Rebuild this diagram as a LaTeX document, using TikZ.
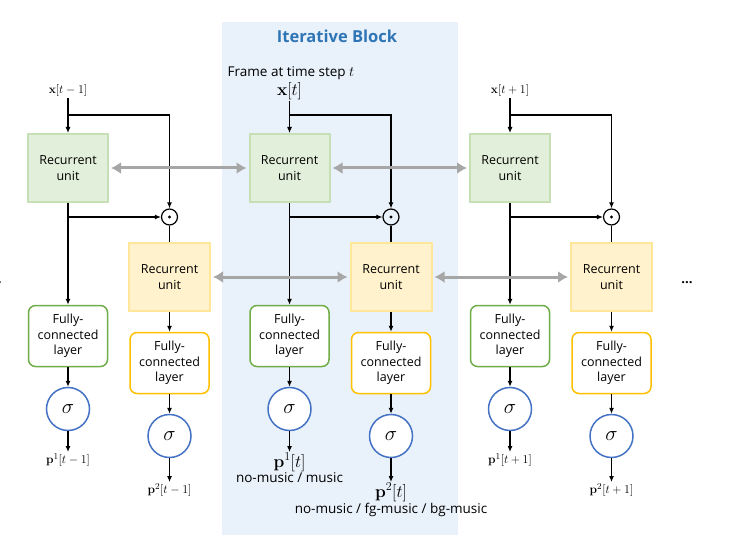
\documentclass[tikz,border=0pt]{standalone}
\usepackage{amsmath}
\usepackage[no-math]{fontspec}
\setmainfont{Open Sans}
\usetikzlibrary{positioning,arrows.meta}

\definecolor{blockbg}{HTML}{E9F1FA}
\definecolor{blocktitle}{HTML}{2E75B6}
\definecolor{rugreen}{HTML}{E2EFDA}
\definecolor{rugreenedge}{HTML}{C5E0B4}
\definecolor{ruyellow}{HTML}{FFF2CC}
\definecolor{ruyellowedge}{HTML}{FFE699}
\definecolor{fcgreen}{HTML}{70AD47}
\definecolor{fcyellow}{HTML}{FFC000}
\definecolor{sigblue}{HTML}{4472C4}
\definecolor{linkgray}{HTML}{A6A6A6}

\tikzset{
  rnngreen/.style={draw=rugreenedge, fill=rugreen, line width=2pt, minimum width=80pt,
    minimum height=68pt, align=center, font=\fontsize{12.5}{15.5}\selectfont},
  rnnyellow/.style={rnngreen, draw=ruyellowedge, fill=ruyellow, minimum width=81pt},
  fcgreen/.style={draw=fcgreen, fill=white, line width=1.5pt, rounded corners=7pt,
    minimum width=79pt, minimum height=61pt, align=center, font=\fontsize{12.5}{15.3}\selectfont},
  fcyellow/.style={fcgreen, draw=fcyellow},
  sig/.style={circle, draw=sigblue, fill=white, line width=1.5pt, minimum size=43pt,
    inner sep=0pt, font=\fontsize{20}{20}\selectfont},
  gate/.style={circle, draw, line width=1.2pt, minimum size=16pt, inner sep=0pt},
  arr/.style={-{Latex[length=6pt,width=5pt]}, line width=1.1pt},
  link/.style={{Latex[length=10pt,width=12pt]}-{Latex[length=10pt,width=12pt]}, draw=linkgray,
    line width=3pt, shorten <=2pt, shorten >=2pt},
  small/.style={font=\fontsize{12.5}{14}\selectfont, inner sep=1pt},
  big/.style={font=\fontsize{17}{19}\selectfont, inner sep=1pt},
  note/.style={font=\fontsize{13.5}{15}\selectfont, inner sep=1pt}
}

\begin{document}
\begin{tikzpicture}[x=1pt, y=-1pt]
  \useasboundingbox (0,0) rectangle (751,553);
  % iterative block background
  \fill[blockbg] (222,22) rectangle (458,535);
  \node[font=\fontsize{16.5}{18}\selectfont\bfseries, text=blocktitle] (title) at (337,36) {Iterative Block};

  % three time steps
  \foreach \i/\x in {1/68, 2/289.5, 3/510} {
    \node[rnngreen] (R\i) at (\x,168) {Recurrent\\unit};
    \node[gate] (M\i) at (\x+101.5,217) {};
    \fill (M\i.center) circle (1.6pt);
    \node[rnnyellow] (Q\i) at (\x+101.5,277) {Recurrent\\unit};
    \node[fcgreen] (F\i) at (\x,336) {Fully-\\connected\\layer};
    \node[fcyellow] (G\i) at (\x+101.5,363) {Fully-\\connected\\layer};
    \node[sig] (S\i) at (\x,409) {$\sigma$};
    \node[sig] (T\i) at (\x+101.5,436) {$\sigma$};
    \coordinate (J\i) at (\x,115);
    \coordinate (K\i) at (\x,217);
    \coordinate (A\i) at (\x,452);
    \coordinate (B\i) at (\x+101.5,482);
  }

  % inputs
  \node[small, anchor=south] (X1) at (68,98) {$\mathbf{x}[t-1]$};
  \node[big, anchor=south] (X2) at (289.5,101) {$\mathbf{x}[t]$};
  \node[note] (frame) at (291,73) {Frame at time step $t$};
  \node[small, anchor=south] (X3) at (510,98) {$\mathbf{x}[t+1]$};

  % outputs
  \node[small, anchor=north] (P1) at (A1) {$\mathbf{p}^1[t-1]$};
  \node[small, anchor=north] (U1) at (B1) {$\mathbf{p}^2[t-1]$};
  \node[big, anchor=north] (P2) at (A2) {$\mathbf{p}^1[t]$};
  \node[note, below=-1pt of P2] (cls1) {no-music / music};
  \node[big, anchor=north] (U2) at (B2) {$\mathbf{p}^2[t]$};
  \node[note, below=-1pt of U2] (cls2) {no-music / fg-music / bg-music};
  \node[small, anchor=north] (P3) at (A3) {$\mathbf{p}^1[t+1]$};
  \node[small, anchor=north] (U3) at (B3) {$\mathbf{p}^2[t+1]$};

  \node[font=\fontsize{13}{13}\selectfont\bfseries] (dotsL) at (-4,283) {...};
  \node[font=\fontsize{13}{13}\selectfont\bfseries] (dotsR) at (687,283) {...};

  % connections
  \foreach \i in {1,2,3} {
    \draw[arr] (X\i.south) -- (R\i.north);
    \draw[arr] (J\i) -| (M\i.north);
    \draw[arr] (R\i.south) -- (F\i.north);
    \draw[arr] (K\i) -- (M\i.west);
    \draw[line width=1.1pt] (M\i.south) -- (Q\i.north);
    \draw[arr] (Q\i.south) -- (G\i.north);
    \draw[arr] (F\i.south) -- (S\i.north);
    \draw[arr] (G\i.south) -- (T\i.north);
    \draw[arr] (S\i.south) -- (A\i);
    \draw[arr] (T\i.south) -- (B\i);
  }
  \draw[link] (R1.east) -- (R2.west);
  \draw[link] (R2.east) -- (R3.west);
  \draw[link] (Q1.east) -- (Q2.west);
  \draw[link] (Q2.east) -- (Q3.west);
\end{tikzpicture}
\end{document}
